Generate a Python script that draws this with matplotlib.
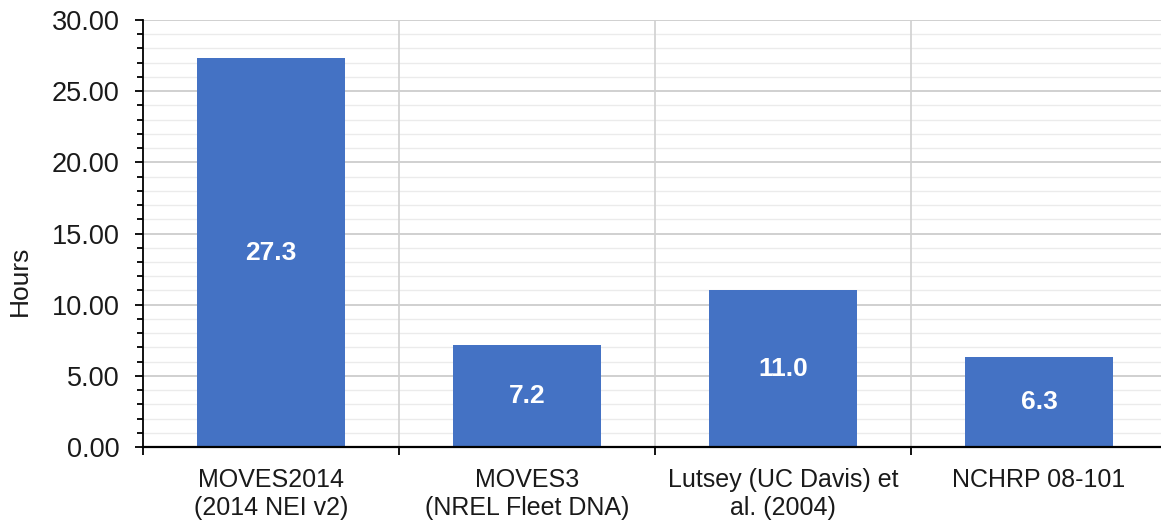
import matplotlib
matplotlib.use("Agg")
import matplotlib.pyplot as plt
from matplotlib.ticker import MultipleLocator, FuncFormatter, FixedLocator
import numpy as np

categories = ["MOVES2014\n(2014 NEI v2)", "MOVES3\n(NREL Fleet DNA)",
              "Lutsey (UC Davis) et\nal. (2004)", "NCHRP 08-101"]
values = [27.3, 7.2, 11.0, 6.3]
value_labels = ["27.3", "7.2", "11.0", "6.3"]

plt.rcParams['font.family'] = ['Liberation Sans', 'DejaVu Sans']

fig = plt.figure(figsize=(11.61, 5.21), dpi=100)
W, H = 1161, 521
ax = fig.add_axes([143 / W, (521 - 447) / H, 1024 / W, 427 / H])

x = np.arange(len(categories))
ax.bar(x, values, width=0.575, color="#4472C4", zorder=3)

ax.set_xlim(-0.5, len(categories) - 0.5)
ax.set_ylim(0, 30)

ax.yaxis.set_major_locator(MultipleLocator(5))
ax.yaxis.set_minor_locator(MultipleLocator(1))
ax.yaxis.set_major_formatter(FuncFormatter(lambda v, p: f"{v:.2f}"))

# grid
for yv in np.arange(1, 30, 1):
    if yv % 5 != 0:
        ax.axhline(yv, color="#ebebeb", lw=1.0, zorder=1)
for yv in np.arange(5, 31, 5):
    ax.axhline(yv, color="#c8c8c8", lw=1.2, zorder=1)
for xb in np.arange(0.5, len(categories), 1):
    ax.axvline(xb, color="#d0d0d0", lw=1.2, zorder=1)

ax.set_xticks(x)
ax.set_xticklabels(categories, fontsize=18, color="#1a1a1a")
ax.xaxis.set_minor_locator(FixedLocator(np.arange(-0.5, len(categories), 1)))
ax.tick_params(axis='x', which='major', length=0, pad=15)
ax.tick_params(axis='x', which='minor', length=6, width=1.3, direction='out', color='black')
ax.tick_params(axis='y', which='major', length=6, width=1.3, labelsize=19.5, labelcolor="#1a1a1a", pad=11)
ax.tick_params(axis='y', which='minor', length=4.5, width=1.3)

for s in ["top", "right"]:
    ax.spines[s].set_visible(False)
ax.spines["left"].set_linewidth(1.3)
ax.spines["bottom"].set_linewidth(1.6)
ax.spines["bottom"].set_zorder(4)

ax.set_ylabel("Hours", fontsize=19, color="#1a1a1a", labelpad=14)
ax.yaxis.label.set_y(0.389)

for xi, v, lab in zip(x, values, value_labels):
    ax.text(xi, v / 2, lab, ha="center", va="center", color="white",
            fontsize=19, fontweight="bold", zorder=5)

fig.savefig("out.png", dpi=100)
